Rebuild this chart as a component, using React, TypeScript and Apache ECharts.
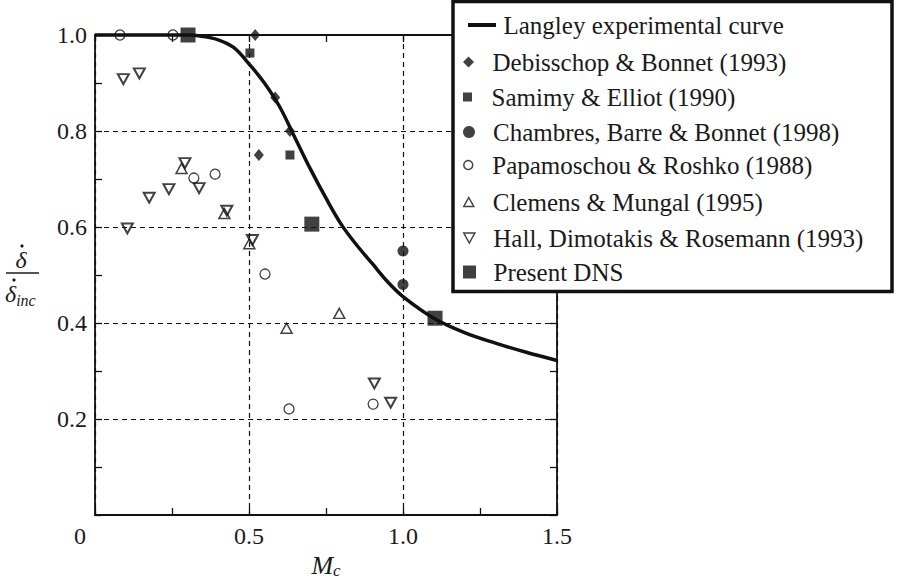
import React, { useEffect, useRef } from 'react';
import * as echarts from 'echarts';

// ---------- tick labels ----------
const xTickLabels = ['0', '0.5', '1.0', '1.5'];
const yTickLabels = ['', '0.2', '0.4', '0.6', '0.8', '1.0'];

// ---------- Langley experimental curve ----------
const langleyX = [0, 0.1, 0.2, 0.3, 0.35, 0.4, 0.45, 0.5, 0.55, 0.6, 0.65, 0.7, 0.75, 0.8, 0.85, 0.9, 0.95, 1.0, 1.1, 1.2, 1.3, 1.4, 1.5];
const langleyY = [1.0, 1.0, 1.0, 1.0, 0.997, 0.99, 0.974, 0.94, 0.9, 0.85, 0.785, 0.72, 0.66, 0.605, 0.562, 0.524, 0.486, 0.455, 0.41, 0.38, 0.358, 0.339, 0.322];

// ---------- experimental points [Mc, ratio] ----------
const debisschop = [[0.52, 1.0], [0.585, 0.87], [0.633, 0.8], [0.532, 0.75]];
const samimy = [[0.503, 0.9625], [0.633, 0.75]];
const chambres = [[1.0, 0.55], [1.0, 0.48]];
const papamoschou = [[0.081, 1.0], [0.253, 1.0], [0.321, 0.702], [0.39, 0.71], [0.552, 0.502], [0.63, 0.221], [0.903, 0.231]];
const clemens = [[0.281, 0.722], [0.42, 0.628], [0.501, 0.565], [0.622, 0.389], [0.793, 0.42]];
const hall = [[0.092, 0.908], [0.144, 0.92], [0.105, 0.597], [0.176, 0.661], [0.24, 0.679], [0.292, 0.733], [0.338, 0.681], [0.428, 0.634], [0.511, 0.573], [0.907, 0.274], [0.96, 0.234]];
const presentDns = [[0.302, 1.0], [0.704, 0.606], [1.104, 0.41]];

const seriesNames = [
  'Langley experimental curve',
  'Debisschop & Bonnet (1993)',
  'Samimy & Elliot (1990)',
  'Chambres, Barre & Bonnet (1998)',
  'Papamoschou & Roshko (1988)',
  'Clemens & Mungal (1995)',
  'Hall, Dimotakis & Rosemann (1993)',
  'Present DNS',
];

const FONT = '"Liberation Serif", "Times New Roman", serif';
const INK = '#111';
const TEXT = '#1a1a1a';
const HOLLOW = 'rgba(255,255,255,0)';

const ICON_LINE = 'path://M0,0L28,0L28,4L0,4Z';
const ICON_DIAMOND = 'path://M5,0L10,5L5,10L0,5Z';
const ICON_SQUARE = 'path://M0,0L10,0L10,10L0,10Z';
const ICON_TRI_UP = 'path://M5,0L10,9L0,9Z';
const ICON_TRI_DOWN = 'path://M0,0L10,0L5,9Z';

function makeLegend(name: string, top: number, icon: string, size: number, filled: boolean, lineRow = false) {
  const item: any = { name, icon };
  item.itemStyle = filled
    ? { color: INK, borderWidth: 0 }
    : { color: HOLLOW, borderColor: INK, borderWidth: 1.5 };
  return {
    show: true,
    orient: 'vertical',
    left: lineRow ? 468 : 463,
    top,
    padding: 0,
    itemWidth: lineRow ? 33 : 38,
    itemHeight: size,
    z: 100,
    data: [item],
    textStyle: {
      fontFamily: FONT,
      fontSize: 25,
      color: TEXT,
      lineHeight: 26,
      padding: lineRow ? 0 : [0, 0, 6, 0],
    },
  };
}

export default function App() {
  const ref = useRef<HTMLDivElement>(null);

  useEffect(() => {
    if (!ref.current) return;
    const chart = echarts.init(ref.current, null, { renderer: 'svg' });

    const axisLineStyle = { color: INK, width: 1.8 };
    const tickStyle = { color: INK, width: 1.3 };
    const dashStyle = { color: INK, width: 1.2, type: [5, 4] as any };

    const option: any = {
      animation: false,
      backgroundColor: '#fff',
      grid: { left: 95, top: 35, width: 462, height: 480, containLabel: false, outerBoundsMode: 'none' },
      xAxis: [
        {
          type: 'value', min: 0, max: 1.5, interval: 0.25, position: 'bottom',
          axisLine: { show: true, onZero: false, lineStyle: axisLineStyle },
          axisTick: { show: true, inside: true, length: 7, lineStyle: tickStyle },
          splitLine: { show: false },
          axisLabel: {
            show: true, margin: 9, fontFamily: FONT, fontSize: 24, color: TEXT,
            formatter: (v: number) => {
              const k = v * 2;
              const r = Math.round(k);
              if (Math.abs(k - r) > 1e-6) return '';
              if (r === 0) return '{z|' + xTickLabels[0] + '}';
              return xTickLabels[r];
            },
            rich: { z: { fontFamily: FONT, fontSize: 24, color: TEXT, padding: [0, 30, 0, 0] } },
          },
          name: '{m|M}{c|c}',
          nameLocation: 'middle',
          nameGap: 34,
          nameTextStyle: {
            rich: {
              m: { fontFamily: FONT, fontStyle: 'italic', fontSize: 26, color: TEXT, verticalAlign: 'middle' },
              c: { fontFamily: FONT, fontStyle: 'italic', fontSize: 17, color: TEXT, verticalAlign: 'middle', padding: [10, 0, 0, 0] },
            },
          },
        },
        {
          type: 'value', min: 0, max: 1.5, interval: 0.25, position: 'top',
          axisLine: { show: true, onZero: false, lineStyle: axisLineStyle },
          axisTick: { show: true, inside: true, length: 7, lineStyle: tickStyle },
          axisLabel: { show: false },
          splitLine: { show: false },
        },
        {
          type: 'value', min: 0, max: 1.5, interval: 0.5, position: 'bottom',
          axisLine: { show: false }, axisTick: { show: false }, axisLabel: { show: false },
          splitLine: { show: true, lineStyle: dashStyle },
        },
      ],
      yAxis: [
        {
          type: 'value', min: 0, max: 1, interval: 0.1, position: 'left',
          axisLine: { show: true, onZero: false, lineStyle: axisLineStyle },
          axisTick: { show: true, inside: true, length: 7, lineStyle: tickStyle },
          splitLine: { show: false },
          axisLabel: {
            show: true, margin: 8, fontFamily: FONT, fontSize: 24, color: TEXT,
            formatter: (v: number) => {
              const t = Math.round(v * 10);
              if (t % 2 !== 0) return '';
              return yTickLabels[t / 2] || '';
            },
          },
        },
        {
          type: 'value', min: 0, max: 1, interval: 0.1, position: 'right',
          axisLine: { show: true, onZero: false, lineStyle: axisLineStyle },
          axisTick: { show: true, inside: true, length: 7, lineStyle: tickStyle },
          axisLabel: { show: false },
          splitLine: { show: false },
        },
        {
          type: 'value', min: 0, max: 1, interval: 0.2, position: 'left',
          axisLine: { show: false }, axisTick: { show: false }, axisLabel: { show: false },
          splitLine: { show: true, lineStyle: dashStyle },
        },
      ],
      legend: [
        makeLegend(seriesNames[0], 12, ICON_LINE, 4, true, true),
        makeLegend(seriesNames[1], 62 - 16, ICON_DIAMOND, 11, true),
        makeLegend(seriesNames[2], 97 - 16, ICON_SQUARE, 9, true),
        makeLegend(seriesNames[3], 132 - 16, 'circle', 12, true),
        makeLegend(seriesNames[4], 165 - 16, 'circle', 9, false),
        makeLegend(seriesNames[5], 202 - 16, ICON_TRI_UP, 9, false),
        makeLegend(seriesNames[6], 238 - 16, ICON_TRI_DOWN, 10, false),
        makeLegend(seriesNames[7], 272 - 16, ICON_SQUARE, 13, true),
      ],
      graphic: [
        {
          type: 'rect', z: 50,
          shape: { x: 453, y: 1.5, width: 439, height: 290 },
          style: { fill: '#fff', stroke: INK, lineWidth: 3.5 },
        },
        // y-axis name: d(delta)/dt over d(delta_inc)/dt
        {
          type: 'text', z: 10, x: 21, y: 260,
          style: { text: 'δ', font: 'italic 24px ' + FONT, fill: TEXT, align: 'center', verticalAlign: 'middle' },
        },
        { type: 'circle', z: 10, shape: { cx: 22, cy: 246, r: 1.6 }, style: { fill: TEXT } },
        {
          type: 'line', z: 10,
          shape: { x1: 6, y1: 273, x2: 39, y2: 273 },
          style: { stroke: TEXT, lineWidth: 1.5 },
        },
        {
          type: 'text', z: 10, x: 5, y: 294,
          style: {
            text: '{d|δ}{s|inc}',
            align: 'left', verticalAlign: 'middle',
            rich: {
              d: { fontFamily: FONT, fontStyle: 'italic', fontSize: 24, fill: TEXT, verticalAlign: 'middle' } as any,
              s: { fontFamily: FONT, fontStyle: 'italic', fontSize: 16, fill: TEXT, verticalAlign: 'middle', padding: [12, 0, 0, 0] } as any,
            },
          },
        },
        { type: 'circle', z: 10, shape: { cx: 14, cy: 280, r: 1.6 }, style: { fill: TEXT } },
      ],
      series: [
        {
          name: seriesNames[0], type: 'line', z: 2, clip: false,
          data: langleyX.map((x, i) => [x, langleyY[i]]),
          smooth: 0.35, symbol: 'none', showSymbol: false,
          lineStyle: { color: INK, width: 3.5 },
          itemStyle: { color: INK },
        },
        {
          name: seriesNames[1], type: 'scatter', z: 4, clip: false, data: debisschop,
          symbol: 'diamond', symbolSize: [10, 12], itemStyle: { color: INK },
        },
        {
          name: seriesNames[2], type: 'scatter', z: 4, clip: false, data: samimy,
          symbol: 'rect', symbolSize: 9, itemStyle: { color: INK },
        },
        {
          name: seriesNames[3], type: 'scatter', z: 4, clip: false, data: chambres,
          symbol: 'circle', symbolSize: 11, itemStyle: { color: INK },
        },
        {
          name: seriesNames[4], type: 'scatter', z: 4, clip: false, data: papamoschou,
          symbol: 'circle', symbolSize: 10,
          itemStyle: { color: HOLLOW, borderColor: INK, borderWidth: 1.3 },
        },
        {
          name: seriesNames[5], type: 'scatter', z: 4, clip: false, data: clemens,
          symbol: 'triangle', symbolSize: [11, 10],
          itemStyle: { color: HOLLOW, borderColor: INK, borderWidth: 1.5 },
        },
        {
          name: seriesNames[6], type: 'scatter', z: 4, clip: false, data: hall,
          symbol: ICON_TRI_DOWN, symbolSize: [11, 10],
          itemStyle: { color: HOLLOW, borderColor: INK, borderWidth: 2 },
        },
        {
          name: seriesNames[7], type: 'scatter', z: 5, clip: false, data: presentDns,
          symbol: 'rect', symbolSize: 15, itemStyle: { color: INK },
        },
      ],
    };

    chart.setOption(option);
    return () => chart.dispose();
  }, []);

  return (
    <div
      ref={ref}
      style={{ position: 'absolute', left: 0, top: 0, width: 897, height: 580, background: '#fff' }}
    />
  );
}
